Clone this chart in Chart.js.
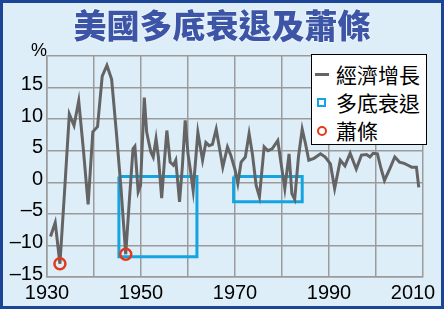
<!DOCTYPE html>
<html>
<head>
<meta charset="utf-8">
<script src="https://cdn.jsdelivr.net/npm/chart.js@4.4.1/dist/chart.umd.min.js"></script>
<style>
	html, body { margin: 0; padding: 0; background: #deeef8; }
	#wrap { position: relative; width: 444px; height: 309px; overflow: hidden; background: #deeef8; }
	#chart { position: absolute; left: 0; top: 0; }
	#frame { position: absolute; left: 0; top: 0; width: 444px; height: 309px; box-sizing: border-box; border: 3px solid #1d4597; pointer-events: none; }
	#title { position: absolute; left: 0; width: 444px; top: 4px; text-align: center; font-family: "Noto Sans CJK TC", sans-serif; font-weight: 900; font-size: 33px; line-height: 40px; color: #3c55a6; text-shadow: 0 0 2px #fff, 0 0 1px #fff; }
	#unit { position: absolute; left: 31px; top: 40px; font-family: "Liberation Sans", Arial, sans-serif; font-size: 18px; color: #000; }
	#legend { position: absolute; left: 311px; top: 54px; width: 116px; height: 91px; box-sizing: border-box; background: #fff; border: 1px solid #000; font-family: "Noto Sans CJK TC", sans-serif; font-size: 21px; color: #000; }
	.row { position: absolute; left: 0; height: 28px; line-height: 28px; }
	.row span.t { position: absolute; left: 24px; white-space: nowrap; }
	.sym { position: absolute; }
</style>
</head>
<body>
<div id="wrap">
	<canvas id="chart" width="444" height="309"></canvas>
	<div id="title">美國多底衰退及蕭條</div>
	<div id="unit">%</div>
	<div id="legend">
		<div class="row" style="top:5px"><div class="sym" style="left:3px;top:13px;width:14px;height:3px;background:#646464"></div><span class="t">經濟增長</span></div>
		<div class="row" style="top:33px"><div class="sym" style="left:5px;top:10px;width:9px;height:9px;box-sizing:border-box;border:2px solid #14a4e2"></div><span class="t">多底衰退</span></div>
		<div class="row" style="top:61px"><div class="sym" style="left:5px;top:10px;width:10px;height:10px;box-sizing:border-box;border:2px solid #e23a1a;border-radius:50%"></div><span class="t">蕭條</span></div>
	</div>
	<div id="frame"></div>
</div>
<script>
	'use strict';

	// growth of the US economy, % (annual to 1946, then quarterly readings)
	const growthYears = [
		1930.75, 1931.75, 1932.75, 1933.75, 1934.75, 1935.75, 1936.75, 1937.75, 1938.75, 1939.75,
		1940.75, 1941.75, 1942.75, 1943.75, 1944.75, 1945.75, 1946.75,
		1947.5, 1948.3, 1948.7, 1949.4, 1949.9, 1950.7, 1951.2, 1951.6, 1952.1, 1952.6, 1953.2, 1953.7, 1954.4,
		1955.0, 1955.5, 1956.2, 1956.9, 1957.4, 1958.2, 1958.8, 1959.4, 1960.0, 1960.5, 1961.1, 1962.1,
		1963.1, 1963.8, 1964.5, 1965.2, 1966.0, 1966.8, 1967.4, 1968.4, 1969.1, 1970.0, 1970.6,
		1971.3, 1972.2, 1973.0, 1973.7, 1974.5, 1975.2, 1976.2, 1977.0, 1977.9, 1979.1, 1979.8,
		1980.6, 1981.5, 1982.1, 1982.7, 1983.5, 1984.3, 1985.0, 1985.7, 1986.8, 1988.2, 1989.2,
		1990.3, 1991.2, 1992.4, 1993.4, 1994.5, 1995.8, 1996.9, 1998.0, 1998.7, 1999.4, 2000.3,
		2001.1, 2001.8, 2002.9, 2004.0, 2005.0, 2006.0, 2006.8, 2007.6, 2008.6, 2009.1
	];
	const growthValues = [
		-8.6, -6.4, -12.9, -1.3, 10.8, 9.0, 12.9, 5.1, -3.5, 8.0,
		8.8, 16.8, 18.5, 16.3, 8.0, -1.0, -11.4,
		-3.1, 5.3, 5.7, -1.5, -0.5, 13.4, 8.0, 6.5, 4.8, 4.0, 6.9, 4.0, -2.5,
		3.5, 8.2, 3.2, 2.7, 3.5, -3.1, 2.5, 9.8, 4.5, 2.0, -1.3, 7.9,
		3.5, 6.3, 5.8, 6.0, 8.4, 5.0, 2.4, 5.6, 4.3, 2.0, -0.2,
		3.2, 4.0, 7.7, 4.5, -0.5, -2.3, 5.6, 5.0, 5.3, 6.6, 3.0,
		-1.0, 4.5, -1.8, -2.7, 4.0, 8.4, 6.1, 3.5, 3.8, 4.5, 4.0,
		2.9, -1.0, 3.5, 2.6, 4.6, 2.1, 4.3, 4.4, 4.0, 4.6, 4.5,
		2.1, 0.3, 2.1, 4.0, 3.2, 3.0, 2.7, 2.4, 2.4, -0.8
	];

	// double-dip recessions: [startYear, endYear, low, high]
	const dipBoxes = [
		[1945.3, 1961.9, -11.8, 0.9],
		[1969.7, 1984.3, -3.1, 0.9]
	];

	// depressions
	const depressionYears = [1932.75, 1946.75];
	const depressionValues = [-12.9, -11.4];

	const xTicksShown = [1930, 1950, 1970, 1990, 2010];

	function boxPoints(b) {
		return [
			{ x: b[0], y: b[3] }, { x: b[1], y: b[3] },
			{ x: b[1], y: b[2] }, { x: b[0], y: b[2] },
			{ x: b[0], y: b[3] }
		];
	}

	const datasets = [];

	// growth line
	datasets.push({
		label: '經濟增長',
		data: growthYears.map(function(x, i){ return { x: x, y: growthValues[i] }; }),
		borderColor: '#646464',
		borderWidth: 3,
		pointRadius: 0,
		tension: 0,
		order: 2
	});

	dipBoxes.forEach(function(b){
		datasets.push({
			label: '多底衰退',
			data: boxPoints(b),
			borderColor: '#14a4e2',
			borderWidth: 3,
			pointRadius: 0,
			borderJoinStyle: 'miter',
			tension: 0,
			order: 3
		});
	});

	datasets.push({
		label: '蕭條',
		type: 'scatter',
		data: depressionYears.map(function(x, i){ return { x: x, y: depressionValues[i] }; }),
		pointStyle: 'circle',
		pointRadius: 5.5,
		pointBorderWidth: 2.5,
		pointBorderColor: '#e23a1a',
		pointBackgroundColor: 'rgba(0,0,0,0)',
		order: 1
	});

	const tickFont = { family: '"Liberation Sans", Arial, sans-serif', size: 20 };

	new Chart(document.getElementById('chart').getContext('2d'), {
		type: 'line',
		data: { datasets: datasets },
		options: {
			responsive: false,
			animation: false,
			events: [],
			layout: { padding: { left: 0, right: 21, top: 56, bottom: 0 } },
			plugins: {
				legend: { display: false },
				tooltip: { enabled: false },
				title: { display: false }
			},
			scales: {
				x: {
					type: 'linear',
					min: 1930,
					max: 2010,
					ticks: {
						stepSize: 10,
						autoSkip: false,
						maxRotation: 0,
						color: '#000',
						font: tickFont,
						padding: 4,
						callback: function(v){
							if (xTicksShown.indexOf(v) < 0) return '';
							// last label sits inside the frame
							return v === 2010 ? '2010\u2002\u2002' : String(v);
						}
					},
					grid: { color: '#9b9b9b', lineWidth: 1.5, drawTicks: false },
					border: { color: '#9b9b9b', width: 1.5 },
					afterFit: function(s){ s.height = 32; s.paddingLeft = 0; s.paddingRight = 0; }
				},
				y: {
					min: -15,
					max: 20,
					ticks: {
						stepSize: 5,
						color: '#000',
						font: tickFont,
						padding: 4,
						labelOffset: -3,
						callback: function(v){
							if (v === 20) return '';
							return String(v).replace('-', '\u2013');
						}
					},
					grid: { color: '#9b9b9b', lineWidth: 1.5, drawTicks: false },
					border: { color: '#9b9b9b', width: 1.5 },
					afterFit: function(s){ s.width = 47; s.paddingTop = 0; s.paddingBottom = 0; }
				}
			}
		}
	});
</script>
</body>
</html>
